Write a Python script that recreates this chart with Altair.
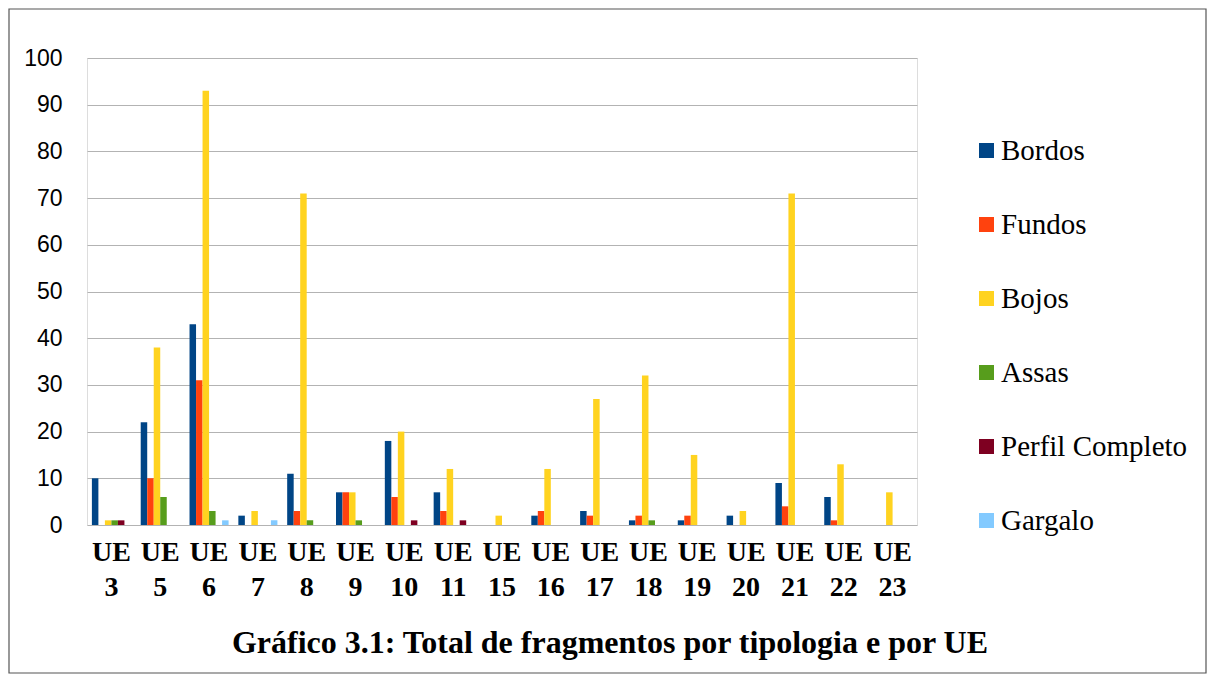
import altair as alt
import pandas as pd

categories = ["UE 3", "UE 5", "UE 6", "UE 7", "UE 8", "UE 9", "UE 10", "UE 11", "UE 15",
              "UE 16", "UE 17", "UE 18", "UE 19", "UE 20", "UE 21", "UE 22", "UE 23"]
series = ["Bordos", "Fundos", "Bojos", "Assas", "Perfil Completo", "Gargalo"]
colors = ["#004586", "#ff420e", "#ffd320", "#579d1c", "#7e0021", "#83caff"]

bordos = [10, 22, 43, 2, 11, 7, 18, 7, 0, 2, 3, 1, 1, 2, 9, 6, 0]
fundos = [0, 10, 31, 0, 3, 7, 6, 3, 0, 3, 2, 2, 2, 0, 4, 1, 0]
bojos = [1, 38, 93, 3, 71, 7, 20, 12, 2, 12, 27, 32, 15, 3, 71, 13, 7]
assas = [1, 6, 3, 0, 1, 1, 0, 0, 0, 0, 0, 1, 0, 0, 0, 0, 0]
perfil = [1, 0, 0, 0, 0, 0, 1, 1, 0, 0, 0, 0, 0, 0, 0, 0, 0]
gargalo = [0, 0, 1, 1, 0, 0, 0, 0, 0, 0, 0, 0, 0, 0, 0, 0, 0]

title_text = "Gráfico 3.1: Total de fragmentos por tipologia e por UE"

rows = []
for name, vals in zip(series, [bordos, fundos, bojos, assas, perfil, gargalo]):
    for c, v in zip(categories, vals):
        rows.append({"UE": c, "tipo": name, "valor": v})
df = pd.DataFrame(rows)

bars = alt.Chart(df).mark_bar().encode(
    x=alt.X("UE:N", sort=categories, title=None,
            scale=alt.Scale(paddingInner=0.2, paddingOuter=0.1),
            axis=alt.Axis(labelAngle=0, ticks=False, domain=False, grid=False,
                          labelFont="Liberation Serif", labelFontSize=28,
                          labelFontWeight="bold", labelColor="black",
                          labelBaseline="top", labelPadding=13, labelLineHeight=35,
                          labelExpr="split(datum.label, ' ')")),
    xOffset=alt.XOffset("tipo:N", sort=series,
                        scale=alt.Scale(paddingInner=0, paddingOuter=0)),
    y=alt.Y("valor:Q", title=None, scale=alt.Scale(domain=[0, 100], nice=False),
            axis=alt.Axis(values=list(range(0, 101, 10)), ticks=False, domain=False,
                          grid=True, gridColor="#b3b3b3", gridWidth=1.2,
                          labelFont="Liberation Sans", labelFontSize=23,
                          labelColor="black", labelPadding=25)),
    color=alt.Color("tipo:N", sort=series, title=None,
                    scale=alt.Scale(domain=series, range=colors),
                    legend=alt.Legend(orient="none", legendX=885, legendY=78,
                                      symbolType="square", symbolSize=225,
                                      symbolStrokeWidth=0, padding=0,
                                      labelFont="Liberation Serif", labelFontSize=29,
                                      labelColor="black", labelOffset=0,
                                      rowPadding=44, labelLimit=400)),
)

frame = alt.Chart(pd.DataFrame({"a": [0]})).mark_rect(
    fill=None, stroke="#555555", strokeWidth=1.2
).encode(x=alt.value(-78), x2=alt.value(1119), y=alt.value(-49), y2=alt.value(615))

title = alt.Chart(pd.DataFrame({"t": [title_text]})).mark_text(
    font="Liberation Serif", fontSize=32, fontWeight="bold", color="black",
    align="center", baseline="middle"
).encode(text="t:N", x=alt.value(523), y=alt.value(585))

chart = alt.layer(frame, bars, title).properties(
    width=830, height=467,
    autosize=alt.AutoSizeParams(type="none"),
    padding={"left": 79, "top": 50, "right": 290, "bottom": 149},
).configure_view(stroke="#b3b3b3", strokeWidth=1.2).configure(background="white")

chart.save("out.html", embed_options={"renderer": "svg", "actions": False})
